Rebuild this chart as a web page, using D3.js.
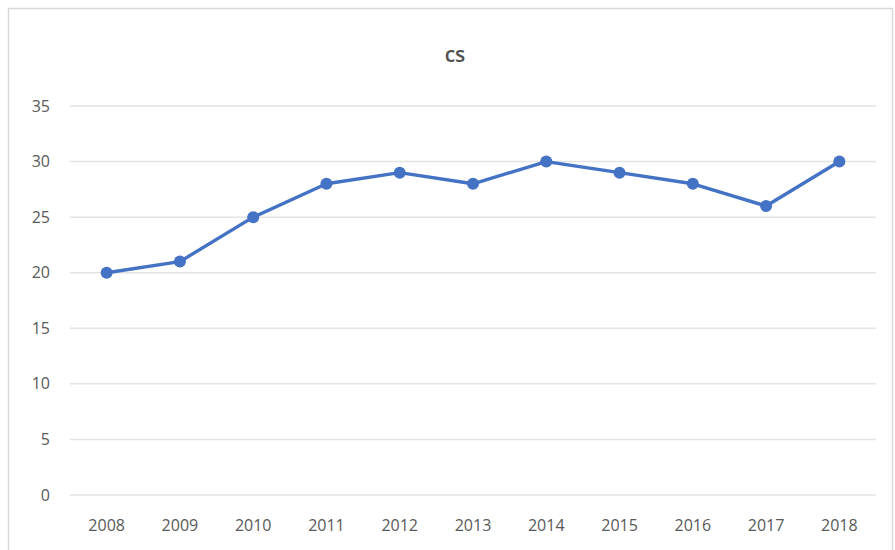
<!DOCTYPE html>
<html>
<head>
<meta charset="UTF-8">
<script src="https://cdn.jsdelivr.net/npm/d3@7/dist/d3.min.js"></script>
<style>
    body{margin:0;background:#fff;}
    text{font-family:"Open Sans","Noto Sans",sans-serif;fill:#595959;}
</style>
</head>
<body>
<div id="chart"></div>
<script>
var years=['2008','2009','2010','2011','2012','2013','2014','2015','2016','2017','2018'];
var values=[20,21,25,28,29,28,30,29,28,26,30];
var yTicks=[0,5,10,15,20,25,30,35];
var title='cs';

var width=895,height=550;
var svg=d3.select('#chart').append('svg')
    .attr('width',width).attr('height',height);

// outer frame
svg.append('rect')
    .attr('x',8.5).attr('y',8.5)
    .attr('width',884).attr('height',560)
    .attr('fill','#fff')
    .attr('stroke','#d9d9d9').attr('stroke-width',1.5);

var plotLeft=70,plotRight=876,plotTop=106,plotBottom=495;

var x=d3.scaleBand().domain(years).range([plotLeft,plotRight]);
var y=d3.scaleLinear().domain([0,35]).range([plotBottom,plotTop]);

// grid
svg.append('g').selectAll('line')
    .data(yTicks).enter().append('line')
    .attr('x1',plotLeft).attr('x2',plotRight)
    .attr('y1',function(d){return y(d)}).attr('y2',function(d){return y(d)})
    .attr('stroke','#e3e3e3').attr('stroke-width',1.5);

// y labels
svg.append('g').selectAll('text')
    .data(yTicks).enter().append('text')
    .attr('x',50).attr('y',function(d){return y(d)})
    .attr('dy','0.35em')
    .attr('text-anchor','end')
    .style('font-size','16px')
    .text(function(d){return d});

// x labels
svg.append('g').selectAll('text')
    .data(years).enter().append('text')
    .attr('x',function(d){return x(d)+x.bandwidth()/2})
    .attr('y',525)
    .attr('dy','0.35em')
    .attr('text-anchor','middle')
    .style('font-size','16px')
    .text(function(d){return d});

// title
svg.append('text')
    .attr('x',455).attr('y',55)
    .attr('dy','0.35em')
    .attr('text-anchor','middle')
    .style('font-size','21px')
    .style('font-weight','600')
    .style('fill','#505050')
    .text(title);

var line=d3.line()
    .x(function(d,i){return x(years[i])+x.bandwidth()/2})
    .y(function(d){return y(d)});

svg.append('path')
    .datum(values)
    .attr('d',line)
    .attr('fill','none')
    .attr('stroke','#4472C4')
    .attr('stroke-width',3.4)
    .attr('stroke-linejoin','round');

svg.append('g').selectAll('circle')
    .data(values).enter().append('circle')
    .attr('cx',function(d,i){return x(years[i])+x.bandwidth()/2})
    .attr('cy',function(d){return y(d)})
    .attr('r',6)
    .attr('fill','#4472C4');
</script>
</body>
</html>
